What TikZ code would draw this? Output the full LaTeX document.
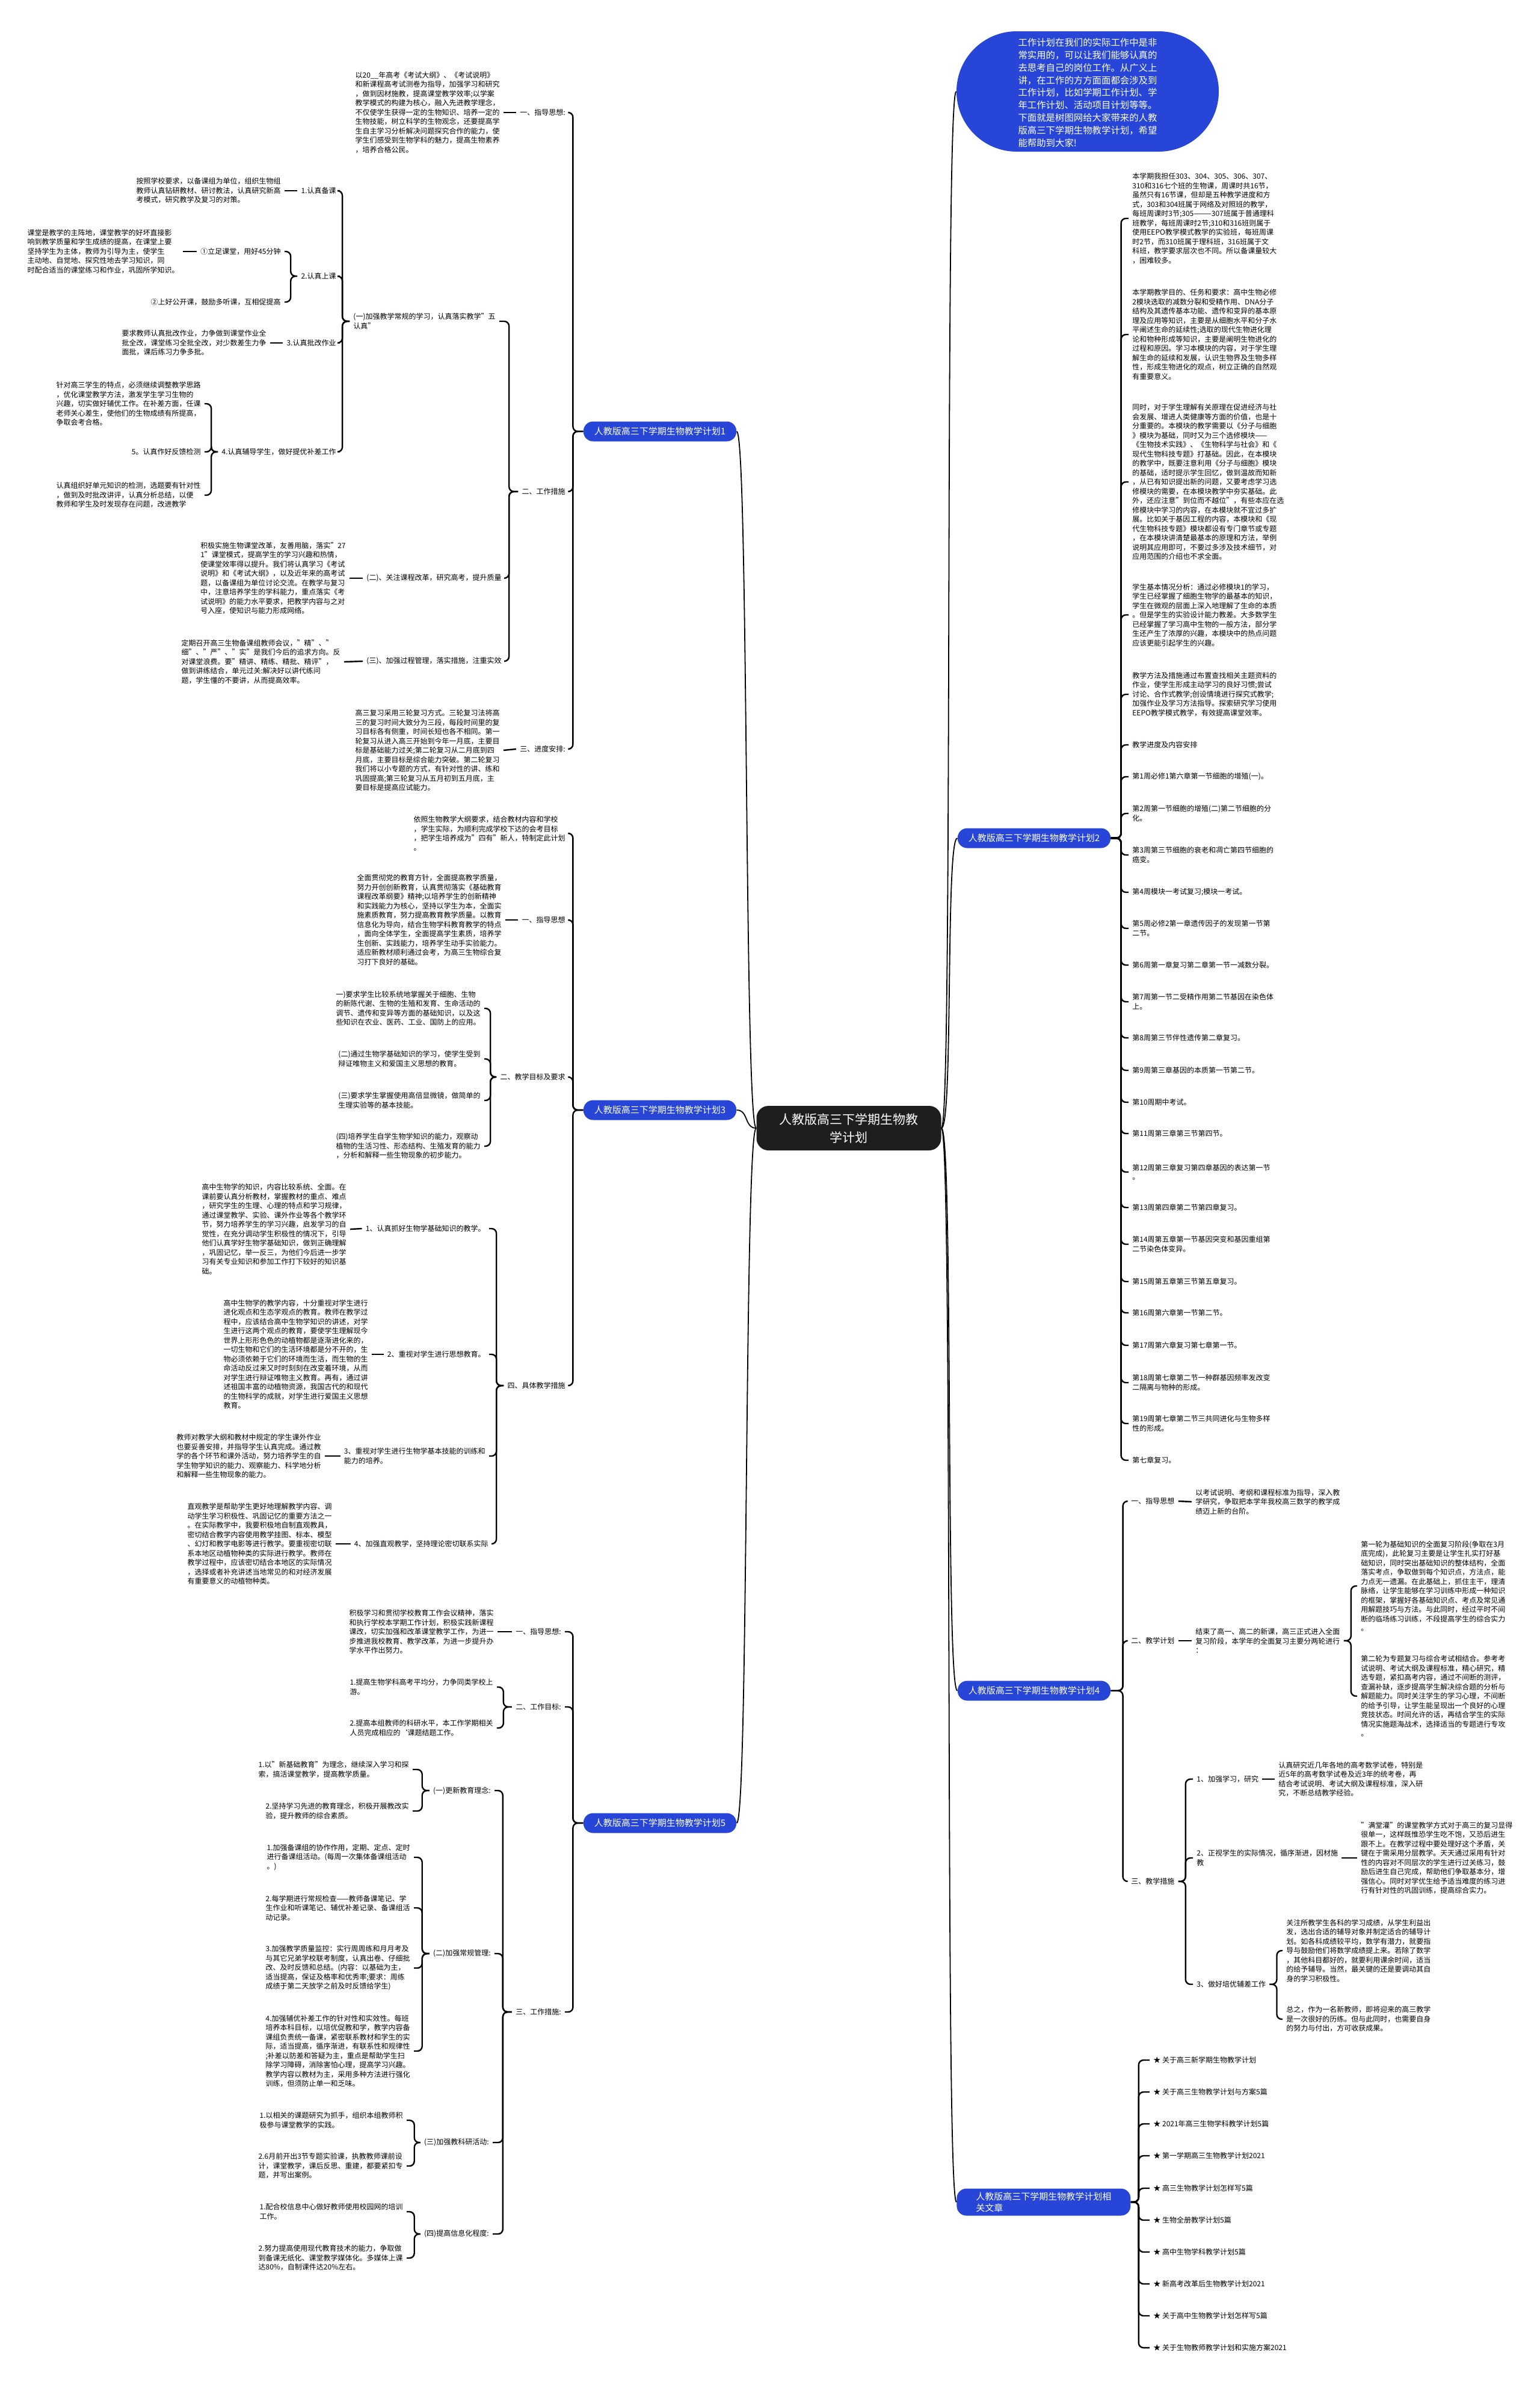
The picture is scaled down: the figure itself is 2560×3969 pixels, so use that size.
\documentclass[tikz,border=0pt]{standalone}
\usepackage{fontspec}
\setmainfont{Noto Sans CJK SC}
\definecolor{mblue}{HTML}{2746D8}
\definecolor{cdark}{HTML}{1E1E1E}
\tikzset{
  basetxt/.style={font=\fontsize{6}{7.75}\selectfont, align=left, inner sep=3pt},
  lefttxt/.style={basetxt, anchor=east},
  righttxt/.style={basetxt, anchor=west},
  conn/.style={line width=1.2pt, rounded corners=4pt},
  centerline/.style={line width=0.9pt},
  branchnode/.style={fill=mblue, text=white, rounded corners=8pt, font=\fontsize{7.5}{9.5}\selectfont, minimum height=16.5pt, inner xsep=9pt, inner ysep=3pt},
  centernode/.style={fill=cdark, text=white, rounded corners=10pt, font=\fontsize{10.5}{15}\selectfont, align=center, minimum width=153.5pt, minimum height=37pt, inner sep=4pt}
}
\begin{document}
\begin{tikzpicture}[x=0.5pt,y=-0.5pt]
\fill[white] (0,0) rectangle (2560,3969);
\useasboundingbox (0,0) rectangle (2560,3969);

% ---------------- centre and intro
\node[centernode] (C) at (1411,1875) {人教版高三下学期生物教\\学计划};
\node[fill=mblue, rounded corners=50pt, minimum width=218pt, minimum height=100pt, inner sep=0pt] (intro) at (1808,152) {};
\node[font=\fontsize{7.7}{10.4}\selectfont, text=white, align=left, inner sep=0pt] (introtxt) at (1808,154) {工作计划在我们的实际工作中是非\\常实用的，可以让我们能够认真的\\去思考自己的岗位工作。从广义上\\讲，在工作的方方面面都会涉及到\\工作计划，比如学期工作计划、学\\年工作计划、活动项目计划等等。\\下面就是树图网给大家带来的人教\\版高三下学期生物教学计划，希望\\能帮助到大家!};

% ---------------- branch nodes
\node[branchnode] (N1) at (1097,717) {人教版高三下学期生物教学计划1};
\node[branchnode] (N3) at (1097,1845) {人教版高三下学期生物教学计划3};
\node[branchnode] (N5) at (1097,3030) {人教版高三下学期生物教学计划5};
\node[branchnode] (N2) at (1719,1393) {人教版高三下学期生物教学计划2};
\node[branchnode] (N4) at (1719,2810) {人教版高三下学期生物教学计划4};
\node[branchnode, align=left, anchor=west, inner xsep=16pt] (N6) at (1590,3660) {人教版高三下学期生物教学计划相\\关文章};

\draw[centerline] (C.west) .. controls +(-20,0) and +(20,0) .. (N1.east);
\draw[centerline] (C.west) .. controls +(-20,0) and +(20,0) .. (N3.east);
\draw[centerline] (C.west) .. controls +(-20,0) and +(20,0) .. (N5.east);
\draw[centerline] (C.east) .. controls +(20,0) and +(-20,0) .. (N2.west);
\draw[centerline] (C.east) .. controls +(20,0) and +(-20,0) .. (N4.west);
\draw[centerline] (C.east) .. controls +(20,0) and +(-20,0) .. (N6.west);
\draw[centerline] (C.east) .. controls +(20,0) and +(-20,0) .. (intro.west);

% ================= PLAN 1
\node[lefttxt] (L1a) at (946,187) {一、指导思想:};
\node[lefttxt] (T1a) at (837,187) {以20\_\_年高考《考试大纲》、《考试说明》\\和新课程高考试测卷为指导，加强学习和研究\\，做到因材施教，提高课堂教学效率;以学案\\教学模式的构建为核心，融入先进教学理念，\\不仅使学生获得一定的生物知识、培养一定的\\生物技能，树立科学的生物观念，还要提高学\\生自主学习分析解决问题探究合作的能力，使\\学生们感受到生物学科的魅力，提高生物素养\\，培养合格公民。};
\node[lefttxt] (L1b) at (946,817) {二、工作措施};
\node[lefttxt] (L1c) at (946,1245) {三、进度安排:};
\node[lefttxt] (T1c) at (837,1247) {高三复习采用三轮复习方式。三轮复习法将高\\三的复习时间大致分为三段，每段时间里的复\\习目标各有侧重，时间长短也各不相同。第一\\轮复习从进入高三开始到今年一月底，主要目\\标是基础能力过关;第二轮复习从二月底到四\\月底，主要目标是综合能力突破。第二轮复习\\我们将以小专题的方式，有针对性的讲、练和\\巩固提高;第三轮复习从五月初到五月底，主\\要目标是提高应试能力。};
\node[lefttxt] (A1) at (830,534) {(一)加强教学常规的学习，认真落实教学"五\\认真"};
\node[lefttxt] (A2) at (840,961) {(二)、关注课程改革，研究高考，提升质量};
\node[lefttxt] (TA2) at (581,961) {积极实施生物课堂改革，友善用脑，落实"27\\1"课堂模式，提高学生的学习兴趣和热情，\\使课堂效率得以提升。我们将认真学习《考试\\说明》和《考试大纲》，以及近年来的高考试\\题，以备课组为单位讨论交流。在教学与复习\\中，注意培养学生的学科能力，重点落实《考\\试说明》的能力水平要求，把教学内容与之对\\号入座，使知识与能力形成网络。};
\node[lefttxt] (A3) at (840,1099) {(三)、加强过程管理，落实措施，注重实效};
\node[lefttxt] (TA3) at (572,1100) {定期召开高三生物备课组教师会议，"精"、"\\细"、"严"、"实"是我们今后的追求方向。反\\对课堂浪费。要"精讲、精练、精批、精评"，\\做到讲练结合，单元过关:解决好以讲代练问\\题，学生懂的不要讲，从而提高效率。};
\node[lefttxt] (B1) at (565,317) {1.认真备课};
\node[lefttxt] (TB1) at (473,317) {按照学校要求，以备课组为单位，组织生物组\\教师认真钻研教材、研讨教法，认真研究新高\\考模式，研究教学及复习的对策。};
\node[lefttxt] (B2) at (565,459) {2.认真上课};
\node[lefttxt] (B2a) at (473,418) {①立足课堂，用好45分钟};
\node[lefttxt] (TB2a) at (304,418) {课堂是教学的主阵地，课堂教学的好坏直接影\\响到教学质量和学生成绩的提高，在课堂上要\\坚持学生为主体，教师为引导为主，使学生\\主动地、自觉地、探究性地去学习知识，同\\时配合适当的课堂练习和作业，巩固所学知识。};
\node[lefttxt] (B2b) at (473,502) {②上好公开课，鼓励多听课，互相促提高};
\node[lefttxt] (B3) at (565,570) {3.认真批改作业};
\node[lefttxt] (TB3) at (449,570) {要求教师认真批改作业，力争做到课堂作业全\\批全改，课堂练习全批全改，对少数差生力争\\面批，课后练习力争多批。};
\node[lefttxt] (B4) at (565,751) {4.认真辅导学生，做好提优补差工作};
\node[lefttxt] (TB4) at (340,671) {针对高三学生的特点，必须继续调整教学思路\\，优化课堂教学方法，激发学生学习生物的\\兴趣，切实做好辅优工作。在补差方面，任课\\老师关心差生，使他们的生物成绩有所提高，\\争取会考合格。};
\node[lefttxt] (B5) at (340,751) {5。认真作好反馈检测};
\node[lefttxt] (TB5) at (340,823) {认真组织好单元知识的检测，选题要有针对性\\，做到及时批改讲评，认真分析总结，以便\\教师和学生及时发现存在问题，改进教学};

\foreach \t in {L1a,L1b,L1c} \draw[conn] (N1.west) -- ++(-17,0) |- (\t.east);
\draw[conn] (L1a.west) -- (T1a.east);
\draw[conn] (L1c.west) -- (T1c.east);
\foreach \t in {A1,A2,A3} \draw[conn] (L1b.west) -- ++(-15,0) |- (\t.east);
\draw[conn] (A2.west) -- (TA2.east);
\draw[conn] (A3.west) -- (TA3.east);
\foreach \t in {B1,B2,B3,B4} \draw[conn] (A1.west) -- ++(-12,0) |- (\t.east);
\draw[conn] (B1.west) -- (TB1.east);
\foreach \t in {B2a,B2b} \draw[conn] (B2.west) -- ++(-11,0) |- (\t.east);
\draw[conn] (B2a.west) -- (TB2a.east);
\draw[conn] (B3.west) -- (TB3.east);
\foreach \t in {TB4,B5,TB5} \draw[conn] (B4.west) -- ++(-11,0) |- (\t.east);

% ================= PLAN 3
\node[lefttxt] (P3i) at (946,1385) {依照生物教学大纲要求，结合教材内容和学校\\，学生实际，为顺利完成学校下达的会考目标\\，把学生培养成为"四有"新人，特制定此计划\\。};
\node[lefttxt] (L3a) at (946,1529) {一、指导思想};
\node[lefttxt] (T3a) at (840,1529) {全面贯彻党的教育方针，全面提高教学质量，\\努力开创创新教育，认真贯彻落实《基础教育\\课程改革纲要》精神;以培养学生的创新精神\\和实践能力为核心，坚持以学生为本，全面实\\施素质教育，努力提高教育教学质量。以教育\\信息化为导向，结合生物学科教育教学的特点\\，面向全体学生，全面提高学生素质，培养学\\生创新、实践能力，培养学生动手实验能力。\\适应新教材顺利通过会考，为高三生物综合复\\习打下良好的基础。};
\node[lefttxt] (L3b) at (946,1790) {二、教学目标及要求};
\node[lefttxt] (T3b1) at (805,1676) {一)要求学生比较系统地掌握关于细胞、生物\\的新陈代谢、生物的生殖和发育、生命活动的\\调节、遗传和变异等方面的基础知识，以及这\\些知识在农业、医药、工业、国防上的应用。};
\node[lefttxt] (T3b2) at (805,1760) {(二)通过生物学基础知识的学习，使学生受到\\辩证唯物主义和爱国主义思想的教育。};
\node[lefttxt] (T3b3) at (805,1829) {(三)要求学生掌握使用高倍显微镜，做简单的\\生理实验等的基本技能。};
\node[lefttxt] (T3b4) at (805,1905) {(四)培养学生自学生物学知识的能力，观察动\\植物的生活习性、形态结构、生殖发育的能力\\，分析和解释一些生物现象的初步能力。};
\node[lefttxt] (L3c) at (946,2303) {四、具体教学措施};
\node[lefttxt] (D1) at (813,2042) {1、认真抓好生物学基础知识的教学。};
\node[lefttxt] (TD1) at (582,2043) {高中生物学的知识，内容比较系统、全面。在\\课前要认真分析教材，掌握教材的重点、难点\\，研究学生的生理、心理的特点和学习规律，\\通过课堂教学、实验、课外作业等各个教学环\\节，努力培养学生的学习兴趣，启发学习的自\\觉性，在充分调动学生积极性的情况下，引导\\他们认真学好生物学基础知识，做到正确理解\\，巩固记忆，举一反三，为他们今后进一步学\\习有关专业知识和参加工作打下较好的知识基\\础。};
\node[lefttxt] (D2) at (813,2251) {2、重视对学生进行思想教育。};
\node[lefttxt] (TD2) at (618,2251) {高中生物学的教学内容，十分重视对学生进行\\进化观点和生态学观点的教育。教师在教学过\\程中，应该结合高中生物学知识的讲述，对学\\生进行这两个观点的教育，要使学生理解现今\\世界上形形色色的动植物都是逐渐进化来的，\\一切生物和它们的生活环境都是分不开的，生\\物必须依赖于它们的环境而生活，而生物的生\\命活动反过来又时时刻刻在改变着环境，从而\\对学生进行辩证唯物主义教育。再有，通过讲\\述祖国丰富的动植物资源，我国古代的和现代\\的生物科学的成就，对学生进行爱国主义思想\\教育。};
\node[lefttxt] (D3) at (813,2420) {3、重视对学生进行生物学基本技能的训练和\\能力的培养。};
\node[lefttxt] (TD3) at (540,2420) {教师对教学大纲和教材中规定的学生课外作业\\也要妥善安排，并指导学生认真完成。通过教\\学的各个环节和课外活动，努力培养学生的自\\学生物学知识的能力、观察能力、科学地分析\\和解释一些生物现象的能力。};
\node[lefttxt] (D4) at (818,2566) {4、加强直观教学，坚持理论密切联系实际};
\node[lefttxt] (TD4) at (558,2566) {直观教学是帮助学生更好地理解教学内容、调\\动学生学习积极性、巩固记忆的重要方法之一\\。在实际教学中，我要积极地自制直观教具，\\密切结合教学内容使用教学挂图、标本、模型\\、幻灯和教学电影等进行教学。要重视密切联\\系本地区动植物种类的实际进行教学。教师在\\教学过程中，应该密切结合本地区的实际情况\\，选择或者补充讲述当地常见的和对经济发展\\有重要意义的动植物种类。};

\foreach \t in {P3i,L3a,L3b,L3c} \draw[conn] (N3.west) -- ++(-17,0) |- (\t.east);
\draw[conn] (L3a.west) -- (T3a.east);
\foreach \t in {T3b1,T3b2,T3b3,T3b4} \draw[conn] (L3b.west) -- ++(-10,0) |- (\t.east);
\foreach \t in {D1,D2,D3,D4} \draw[conn] (L3c.west) -- ++(-12,0) |- (\t.east);
\draw[conn] (D1.west) -- (TD1.east);
\draw[conn] (D2.west) -- (TD2.east);
\draw[conn] (D3.west) -- (TD3.east);
\draw[conn] (D4.west) -- (TD4.east);

% ================= PLAN 5
\node[lefttxt] (L5a) at (939,2712) {一、指导思想:};
\node[lefttxt] (P5a) at (827,2712) {积极学习和贯彻学校教育工作会议精神，落实\\和执行学校本学期工作计划，积极实践新课程\\课改，切实加强和改革课堂教学工作，为进一\\步推进我校教育、教学改革，为进一步提升办\\学水平作出努力。};
\node[lefttxt] (L5b) at (939,2837) {二、工作目标:};
\node[lefttxt] (G1) at (826,2804) {1.提高生物学科高考平均分，力争同类学校上\\游。};
\node[lefttxt] (G2) at (826,2872) {2.提高本组教师的科研水平，本工作学期相关\\人员完成相应的`课题结题工作。};
\node[lefttxt] (L5c) at (939,3344) {三、工作措施:};
\node[lefttxt] (H1) at (822,2976) {(一)更新教育理念:};
\node[lefttxt] (H1a) at (686,2941) {1.以"新基础教育"为理念，继续深入学习和探\\索，搞活课堂教学，提高教学质量。};
\node[lefttxt] (H1b) at (686,3010) {2.坚持学习先进的教育理念，积极开展教改实\\验，提升教师的综合素质。};
\node[lefttxt] (H2) at (822,3247) {(二)加强常规管理:};
\node[lefttxt] (H2a) at (688,3087) {1.加强备课组的协作作用，定期、定点、定时\\进行备课组活动。(每周一次集体备课组活动\\。)};
\node[lefttxt] (H2b) at (688,3171) {2.每学期进行常规检查——教师备课笔记、学\\生作业和听课笔记、辅优补差记录、备课组活\\动记录。};
\node[lefttxt] (H2c) at (688,3271) {3.加强教学质量监控：实行周周练和月月考及\\与其它兄弟学校联考制度，认真出卷、仔细批\\改、及时反馈和总结。(内容：以基础为主，\\适当提高，保证及格率和优秀率;要求：周练\\成绩于第二天放学之前及时反馈给学生)};
\node[lefttxt] (H2d) at (688,3409) {4.加强辅优补差工作的针对性和实效性。每班\\培养本科目标，以培优促教和学，教学内容备\\课组负责统一备课，紧密联系教材和学生的实\\际，适当提高，循序渐进，有联系性和规律性\\;补差以防差和答疑为主，重点是帮助学生扫\\除学习障碍，消除害怕心理，提高学习兴趣。\\教学内容以教材为主，采用多种方法进行强化\\训练，但须防止单一和乏味。};
\node[lefttxt] (H3) at (819,3561) {(三)加强教科研活动:};
\node[lefttxt] (H3a) at (676,3524) {1.以相关的课题研究为抓手，组织本组教师积\\极参与课堂教学的实践。};
\node[lefttxt] (H3b) at (676,3600) {2.6月前开出3节专题实验课，执教教师课前设\\计，课堂教学，课后反思、重建，都要紧扣专\\题，并写出案例。};
\node[lefttxt] (H4) at (819,3713) {(四)提高信息化程度:};
\node[lefttxt] (H4a) at (676,3676) {1.配合校信息中心做好教师使用校园网的培训\\工作。};
\node[lefttxt] (H4b) at (676,3753) {2.努力提高使用现代教育技术的能力，争取做\\到备课无纸化、课堂教学媒体化。多媒体上课\\达80\%，自制课件达20\%左右。};

\foreach \t in {L5a,L5b,L5c} \draw[conn] (N5.west) -- ++(-17,0) |- (\t.east);
\draw[conn] (L5a.west) -- (P5a.east);
\foreach \t in {G1,G2} \draw[conn] (L5b.west) -- ++(-14,0) |- (\t.east);
\foreach \t in {H1,H2,H3,H4} \draw[conn] (L5c.west) -- ++(-15,0) |- (\t.east);
\foreach \t in {H1a,H1b} \draw[conn] (H1.west) -- ++(-12,0) |- (\t.east);
\foreach \t in {H2a,H2b,H2c,H2d} \draw[conn] (H2.west) -- ++(-12,0) |- (\t.east);
\foreach \t in {H3a,H3b} \draw[conn] (H3.west) -- ++(-10,0) |- (\t.east);
\foreach \t in {H4a,H4b} \draw[conn] (H4.west) -- ++(-10,0) |- (\t.east);

% ================= PLAN 2
\node[righttxt] (R1) at (1876,363) {本学期我担任303、304、305、306、307、\\310和316七个班的生物课，周课时共16节，\\虽然只有16节课，但却是五种教学进度和方\\式，303和304班属于网络及对照班的教学，\\每班周课时3节;305———307班属于普通理科\\班教学，每班周课时2节;310和316班则属于\\使用EEPO教学模式教学的实验班，每班周课\\时2节，而310班属于理科班，316班属于文\\科班，教学要求层次也不同。所以备课量较大\\，困难较多。};
\node[righttxt] (R2) at (1876,556) {本学期教学目的、任务和要求：高中生物必修\\2模块选取的减数分裂和受精作用、DNA分子\\结构及其遗传基本功能、遗传和变异的基本原\\理及应用等知识，主要是从细胞水平和分子水\\平阐述生命的延续性;选取的现代生物进化理\\论和物种形成等知识，主要是阐明生物进化的\\过程和原因。学习本模块的内容，对于学生理\\解生命的延续和发展，认识生物界及生物多样\\性，形成生物进化的观点，树立正确的自然观\\有重要意义。};
\node[righttxt] (R3) at (1876,801) {同时，对于学生理解有关原理在促进经济与社\\会发展、增进人类健康等方面的价值，也是十\\分重要的。本模块的教学需要以《分子与细胞\\》模块为基础，同时又为三个选修模块——\\《生物技术实践》、《生物科学与社会》和《\\现代生物科技专题》打基础。因此，在本模块\\的教学中，既要注意利用《分子与细胞》模块\\的基础，适时提示学生回忆，做到温故而知新\\，从已有知识提出新的问题，又要考虑学习选\\修模块的需要，在本模块教学中夯实基础。此\\外，还应注意"到位而不越位"，有些本应在选\\修模块中学习的内容，在本模块就不宜过多扩\\展。比如关于基因工程的内容，本模块和《现\\代生物科技专题》模块都设有专门章节或专题\\，在本模块讲清楚最基本的原理和方法，举例\\说明其应用即可，不要过多涉及技术细节，对\\应用范围的介绍也不求全面。};
\node[righttxt] (R4) at (1876,1022) {学生基本情况分析：通过必修模块1的学习，\\学生已经掌握了细胞生物学的最基本的知识，\\学生在微观的层面上深入地理解了生命的本质\\。但是学生的实验设计能力教差。大多数学生\\已经掌握了学习高中生物的一般方法，部分学\\生还产生了浓厚的兴趣，本模块中的热点问题\\应该更能引起学生的兴趣。};
\node[righttxt] (R5) at (1876,1154) {教学方法及措施通过布置查找相关主题资料的\\作业，使学生形成主动学习的良好习惯;尝试\\讨论、合作式教学;创设情境进行探究式教学;\\加强作业及学习方法指导。探索研究学习使用\\EEPO教学模式教学，有效提高课堂效率。};
\node[righttxt] (R6) at (1876,1238) {教学进度及内容安排};
\node[righttxt] (W1) at (1876,1291) {第1周必修1第六章第一节细胞的增殖(一)。};
\node[righttxt] (W2) at (1876,1352) {第2周第一节细胞的增殖(二)第二节细胞的分\\化。};
\node[righttxt] (W3) at (1876,1421) {第3周第三节细胞的衰老和凋亡第四节细胞的\\癌变。};
\node[righttxt] (W4) at (1876,1483) {第4周模块一考试复习;模块一考试。};
\node[righttxt] (W5) at (1876,1543) {第5周必修2第一章遗传因子的发现第一节第\\二节。};
\node[righttxt] (W6) at (1876,1604) {第6周第一章复习第二章第一节一减数分裂。};
\node[righttxt] (W7) at (1876,1665) {第7周第一节二受精作用第二节基因在染色体\\上。};
\node[righttxt] (W8) at (1876,1725) {第8周第三节伴性遗传第二章复习。};
\node[righttxt] (W9) at (1876,1779) {第9周第三章基因的本质第一节第二节。};
\node[righttxt] (W10) at (1876,1832) {第10周期中考试。};
\node[righttxt] (W11) at (1876,1884) {第11周第三章第三节第四节。};
\node[righttxt] (W12) at (1876,1948) {第12周第三章复习第四章基因的表达第一节\\。};
\node[righttxt] (W13) at (1876,2007) {第13周第四章第二节第四章复习。};
\node[righttxt] (W14) at (1876,2068) {第14周第五章第一节基因突变和基因重组第\\二节染色体变异。};
\node[righttxt] (W15) at (1876,2130) {第15周第五章第三节第五章复习。};
\node[righttxt] (W16) at (1876,2182) {第16周第六章第一节第二节。};
\node[righttxt] (W17) at (1876,2236) {第17周第六章复习第七章第一节。};
\node[righttxt] (W18) at (1876,2298) {第18周第七章第二节一种群基因频率发改变\\二隔离与物种的形成。};
\node[righttxt] (W19) at (1876,2366) {第19周第七章第二节三共同进化与生物多样\\性的形成。};
\node[righttxt] (W20) at (1876,2427) {第七章复习。};

\foreach \t in {R1,R2,R3,R4,R5,R6,W1,W2,W3,W4,W5,W6,W7,W8,W9,W10,W11,W12,W13,W14,W15,W16,W17,W18,W19,W20}
  \draw[conn] (N2.east) -- ++(17,0) |- (\t.west);

% ================= PLAN 4
\node[righttxt] (K1) at (1874,2495) {一、指导思想};
\node[righttxt] (TK1) at (1981,2496) {以考试说明、考纲和课程标准为指导，深入教\\学研究，争取把本学年我校高三数学的教学成\\绩迈上新的台阶。};
\node[righttxt] (K2) at (1874,2727) {二、教学计划};
\node[righttxt] (TK2) at (1981,2727) {结束了高一、高二的新课，高三正式进入全面\\复习阶段，本学年的全面复习主要分两轮进行\\：};
\node[righttxt] (TK2a) at (2256,2636) {第一轮为基础知识的全面复习阶段(争取在3月\\底完成)，此轮复习主要是让学生扎实打好基\\础知识，同时突出基础知识的整体结构，全面\\落实考点，争取做到每个知识点，方法点，能\\力点无一遗漏。在此基础上，抓住主干，理清\\脉络，让学生能够在学习训练中形成一种知识\\的框架，掌握好各基础知识点、考点及常见通\\用解题技巧与方法。与此同时，经过平时不间\\断的临场练习训练，不段提高学生的综合实力\\。};
\node[righttxt] (TK2b) at (2256,2819) {第二轮为专题复习与综合考试相结合。参考考\\试说明、考试大纲及课程标准，精心研究，精\\选专题，紧扣高考内容，通过不间断的测评，\\查漏补缺，逐步提高学生解决综合题的分析与\\解题能力。同时关注学生的学习心理，不间断\\的给予引导，让学生能呈现出一个良好的心理\\竞技状态。时间允许的话，再结合学生的实际\\情况实施题海战术，选择适当的专题进行专攻\\。};
\node[righttxt] (K3) at (1874,3127) {三、教学措施};
\node[righttxt] (M1) at (1983,2957) {1、加强学习，研究};
\node[righttxt] (TM1) at (2119,2957) {认真研究近几年各地的高考数学试卷，特别是\\近5年的高考数学试卷及近3年的统考卷，再\\结合考试说明、考试大纲及课程标准，深入研\\究，不断总结教学经验。};
\node[righttxt] (M2) at (1983,3088) {2、正视学生的实际情况，循序渐进，因材施\\教};
\node[righttxt] (TM2) at (2256,3088) {"满堂灌"的课堂教学方式对于高三的复习显得\\很单一，这样既惟恐学生吃不饱，又恐后进生\\跟不上。在教学过程中要处理好这个矛盾，关\\键在于需采用分层教学。天天通过采用有针对\\性的内容对不同层次的学生进行过关练习，鼓\\励后进生自己完成，帮助他们争取基本分，增\\强信心。同时对学优生给予适当难度的练习进\\行有针对性的巩固训练，提高综合实力。};
\node[righttxt] (M3) at (1983,3298) {3、做好培优辅差工作};
\node[righttxt] (TM3a) at (2132,3242) {关注所教学生各科的学习成绩，从学生利益出\\发，选出合适的辅导对象并制定适合的辅导计\\划。如各科成绩较平均，数学有潜力，就要指\\导与鼓励他们将数学成绩提上来。若除了数学\\，其他科目都好的，就要利用课余时间，适当\\的给予辅导。当然，最关键的还是要调动其自\\身的学习积极性。};
\node[righttxt] (TM3b) at (2132,3356) {总之，作为一名新教师，即将迎来的高三教学\\是一次很好的历练。但与此同时，也需要自身\\的努力与付出，方可收获成果。};

\foreach \t in {K1,K2,K3} \draw[conn] (N4.east) -- ++(20,0) |- (\t.west);
\draw[conn] (K1.east) -- (TK1.west);
\draw[conn] (K2.east) -- (TK2.west);
\foreach \t in {TK2a,TK2b} \draw[conn] (TK2.east) -- ++(12,0) |- (\t.west);
\foreach \t in {M1,M2,M3} \draw[conn] (K3.east) -- ++(12,0) |- (\t.west);
\draw[conn] (M1.east) -- (TM1.west);
\draw[conn] (M2.east) -- (TM2.west);
\foreach \t in {TM3a,TM3b} \draw[conn] (M3.east) -- ++(12,0) |- (\t.west);

% ================= related articles
\node[righttxt] (S1) at (1911,3424) {★ 关于高三新学期生物教学计划};
\node[righttxt] (S2) at (1911,3477) {★ 关于高三生物教学计划与方案5篇};
\node[righttxt] (S3) at (1911,3530) {★ 2021年高三生物学科教学计划5篇};
\node[righttxt] (S4) at (1911,3583) {★ 第一学期高三生物教学计划2021};
\node[righttxt] (S5) at (1911,3637) {★ 高三生物教学计划怎样写5篇};
\node[righttxt] (S6) at (1911,3690) {★ 生物全册教学计划5篇};
\node[righttxt] (S7) at (1911,3743) {★ 高中生物学科教学计划5篇};
\node[righttxt] (S8) at (1911,3796) {★ 新高考改革后生物教学计划2021};
\node[righttxt] (S9) at (1911,3849) {★ 关于高中生物教学计划怎样写5篇};
\node[righttxt] (S10) at (1911,3902) {★ 关于生物教师教学计划和实施方案2021};
\foreach \t in {S1,S2,S3,S4,S5,S6,S7,S8,S9,S10} \draw[conn] (N6.east) -- ++(13,0) |- (\t.west);

\end{tikzpicture}
\end{document}
